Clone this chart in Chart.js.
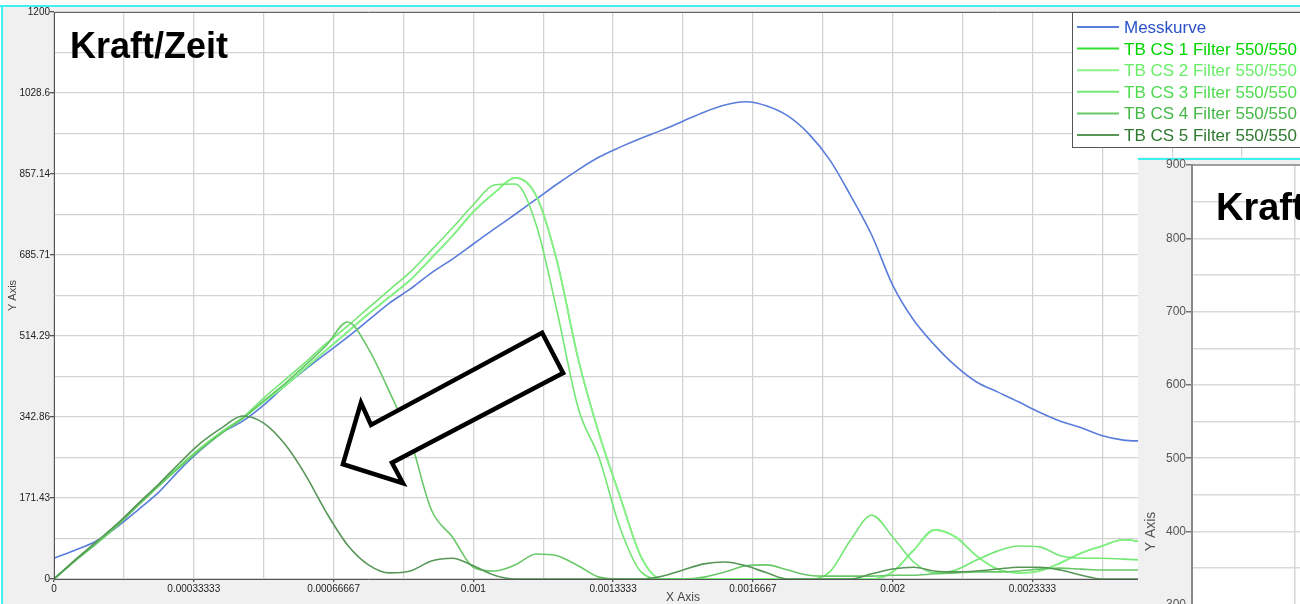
<!DOCTYPE html>
<html>
<head>
<meta charset="utf-8">
<script src="https://cdn.jsdelivr.net/npm/chart.js@4.4.1/dist/chart.umd.min.js"></script>
<style>
html, body { margin: 0; padding: 0; background: #fff; overflow: hidden; width: 1300px; height: 604px; }
#wrap { position: relative; width: 1300px; height: 604px; overflow: hidden; }
#kraftZeit { position: absolute; left: 0; top: 0; }
#zweitesDiagramm { position: absolute; left: 1138px; top: 157px; }
</style>
</head>
<body>
<div id="wrap">
  <canvas id="kraftZeit" width="1330" height="604"></canvas>
  <canvas id="zweitesDiagramm" width="1100" height="780"></canvas>
</div>
<script>
// Zeitachse (s), gemeinsames Raster fuer alle Kurven
const zeit = [0, 0.00005, 0.0001, 0.00015, 0.0002, 0.00025, 0.0003, 0.00035, 0.0004, 0.00045,
  0.0005, 0.00055, 0.0006, 0.00065, 0.0007, 0.00075, 0.0008, 0.00085, 0.0009, 0.00095,
  0.001, 0.00105, 0.0011, 0.00115, 0.0012, 0.00125, 0.0013, 0.00135, 0.0014, 0.00145,
  0.0015, 0.00155, 0.0016, 0.00165, 0.0017, 0.00175, 0.0018, 0.00185, 0.0019, 0.00195,
  0.002, 0.00205, 0.0021, 0.00215, 0.0022, 0.00225, 0.0023, 0.00235, 0.0024, 0.00245,
  0.0025, 0.00255, 0.0026];

const messkurve = [44, 61, 80, 110, 146, 184, 231, 273, 309, 334,
  368, 408, 444, 478, 512, 548, 584, 614, 648, 677,
  709, 741, 772, 804, 836, 866, 893, 914, 933, 950,
  969, 988, 1003, 1010, 1001, 980, 942, 887, 811, 728,
  622, 548, 495, 451, 417, 396, 375, 353, 334, 320,
  303, 294, 292];

// CS 1 liegt im Bild unter CS 2
const tbcs1 = [0, 39, 75, 113, 156, 198, 238, 276, 310, 340,
  375, 408, 447, 485, 523, 561, 597, 633, 679, 726,
  777, 817, 849, 811, 671, 466, 307, 174, 47, 0,
  0, 0, 0, 0, 0, 0, 0, 0, 0, 0,
  15, 61, 104, 89, 49, 21, 13, 17, 34, 55,
  70, 83, 78];

const tbcs2 = [0, 39, 75, 113, 156, 198, 238, 276, 310, 340,
  375, 408, 447, 485, 523, 561, 597, 633, 679, 726,
  777, 817, 849, 811, 671, 466, 307, 174, 47, 0,
  0, 0, 0, 0, 0, 0, 0, 0, 0, 0,
  15, 61, 104, 89, 49, 21, 13, 17, 34, 55,
  70, 83, 78];

const tbcs3 = [0, 40, 77, 115, 158, 200, 240, 278, 312, 342,
  383, 421, 459, 499, 535, 574, 612, 650, 696, 743,
  792, 834, 836, 749, 565, 362, 256, 108, 15, 0,
  0, 0, 0, 0, 0, 0, 0, 15, 83, 135,
  89, 36, 13, 19, 40, 59, 70, 68, 49, 44,
  44, 42, 40];

const tbcs4 = [0, 38, 74, 112, 155, 197, 237, 275, 309, 340,
  377, 413, 453, 495, 544, 487, 396, 294, 146, 89,
  25, 17, 30, 53, 49, 28, 4, 0, 0, 0,
  0, 4, 15, 28, 30, 19, 8, 6, 6, 6,
  8, 8, 11, 13, 15, 15, 17, 21, 23, 21,
  19, 19, 19];

const tbcs5 = [0, 40, 78, 116, 159, 201, 246, 288, 320, 345,
  330, 286, 220, 140, 72, 30, 13, 17, 38, 44,
  28, 8, 0, 0, 0, 0, 0, 0, 0, 6,
  19, 32, 36, 28, 13, 0, 0, 0, 0, 11,
  21, 25, 17, 15, 17, 21, 25, 25, 19, 8,
  0, 0, 0];

const xTickLabels = ['0', '0.00033333', '0.00066667', '0.001', '0.0013333', '0.0016667', '0.002', '0.0023333', '0.0026667', '0.003'];
const yTickLabels = ['0', '171.43', '342.86', '514.29', '685.71', '857.14', '1028.6', '1200'];
const insetYTickLabels = ['-100', '0', '100', '200', '300', '400', '500', '600', '700', '800', '900'];

// Pfeil (Annotation) in Datenkoordinaten
const pfeilX = [0.001164, 0.001214, 0.000806, 0.000832, 0.000689, 0.000732, 0.000756];
const pfeilY = [521, 436, 246, 203, 243, 373, 326];

const F = '"Liberation Sans", Arial, sans-serif';
Chart.defaults.font.family = F;

const serien = [
  { label: 'Messkurve', werte: messkurve, farbe: '#5a7ddb', text: '#2b52c8' },
  { label: 'TB CS 1 Filter 550/550', werte: tbcs1, farbe: '#33e033', text: '#00d400' },
  { label: 'TB CS 2 Filter 550/550', werte: tbcs2, farbe: '#8cf28c', text: '#6aee6a' },
  { label: 'TB CS 3 Filter 550/550', werte: tbcs3, farbe: '#74e674', text: '#4fdc4f' },
  { label: 'TB CS 4 Filter 550/550', werte: tbcs4, farbe: '#68c868', text: '#45b845' },
  { label: 'TB CS 5 Filter 550/550', werte: tbcs5, farbe: '#579657', text: '#2f7a2f' }
];

const hintergrund = {
  id: 'hintergrund',
  beforeDraw(chart) {
    const { ctx, chartArea: a } = chart;
    ctx.save();
    ctx.fillStyle = '#fff';
    ctx.fillRect(0, 0, chart.width, chart.height);
    ctx.fillStyle = '#f0f0f0';
    ctx.fillRect(2, 6, chart.width, chart.height);
    ctx.fillStyle = '#fff';
    ctx.fillRect(a.left, a.top, a.width, a.height);
    ctx.fillStyle = '#3ff0f0';
    ctx.fillRect(0, 5, chart.width, 2);
    ctx.fillRect(1, 5, 2, chart.height);
    ctx.restore();
  },
  beforeDatasetsDraw(chart) {
    const { ctx, chartArea: a } = chart;
    ctx.save();
    ctx.strokeStyle = '#666';
    ctx.lineWidth = 1;
    ctx.beginPath();
    ctx.moveTo(a.left, a.top + 0.5);
    ctx.lineTo(a.right, a.top + 0.5);
    ctx.lineTo(a.right, a.bottom);
    ctx.stroke();
    ctx.restore();
  }
};

const beschriftung = {
  id: 'beschriftung',
  afterDatasetsDraw(chart) {
    const { ctx } = chart;
    const xs = chart.scales.x, ys = chart.scales.y;
    ctx.save();
    ctx.beginPath();
    pfeilX.forEach((v, i) => {
      const px = xs.getPixelForValue(v), py = ys.getPixelForValue(pfeilY[i]);
      if (i) ctx.lineTo(px, py); else ctx.moveTo(px, py);
    });
    ctx.closePath();
    ctx.fillStyle = '#fff';
    ctx.fill();
    ctx.lineWidth = 4.5;
    ctx.lineJoin = 'miter';
    ctx.strokeStyle = '#000';
    ctx.stroke();

    ctx.fillStyle = '#000';
    ctx.font = 'bold 36px ' + F;
    ctx.textBaseline = 'alphabetic';
    ctx.fillText('Kraft/Zeit', 70, 58);
    ctx.restore();
  },
  afterDraw(chart) {
    const { ctx } = chart;
    ctx.save();
    ctx.fillStyle = '#fff';
    ctx.fillRect(1072.5, 12.5, 300, 135);
    ctx.strokeStyle = '#555';
    ctx.lineWidth = 1;
    ctx.strokeRect(1072.5, 12.5, 300, 135);
    ctx.font = '17px ' + F;
    ctx.textBaseline = 'alphabetic';
    chart.data.datasets.forEach((d, i) => {
      const y = 27 + i * 21.6;
      ctx.strokeStyle = d.borderColor;
      ctx.lineWidth = 2;
      ctx.beginPath();
      ctx.moveTo(1077, y);
      ctx.lineTo(1119, y);
      ctx.stroke();
      ctx.fillStyle = d.textColor;
      ctx.fillText(d.label, 1124, y + 6);
    });
    ctx.restore();
  }
};

const xGitter = [];
for (let k = 0; k <= 18; k++) xGitter.push(k * 0.001 / 6);
const yGitter = [];
for (let k = 0; k <= 14; k++) yGitter.push(k * 600 / 7);

const nurHaupt = c => (c.index % 2 === 0 ? '#555' : 'rgba(0,0,0,0)');

new Chart(document.getElementById('kraftZeit'), {
  type: 'line',
  data: {
    datasets: serien.map((s, i) => ({
      label: s.label,
      data: zeit.map((t, k) => ({ x: t, y: s.werte[k] })),
      borderColor: s.farbe,
      textColor: s.text,
      borderWidth: 1.6,
      pointRadius: 0,
      cubicInterpolationMode: 'monotone',
      order: serien.length - i
    }))
  },
  options: {
    responsive: false,
    animation: false,
    events: [],
    layout: { padding: { left: 0, top: 12, right: 18, bottom: 0 } },
    plugins: { legend: { display: false }, tooltip: { enabled: false } },
    scales: {
      x: {
        type: 'linear', min: 0, max: 0.003,
        afterFit(s) { s.height = 25; },
        afterBuildTicks(s) { s.ticks = xGitter.map(v => ({ value: v })); },
        ticks: {
          autoSkip: false, maxRotation: 0, padding: 1, color: '#222',
          font: { size: 10 },
          callback: (v, i) => (i % 2 === 0 ? xTickLabels[i / 2] : '')
        },
        grid: { color: '#d2d2d2', lineWidth: 1.3, tickLength: 3, tickColor: nurHaupt },
        border: { color: '#555', width: 1, z: 1 },
        title: { display: true, text: 'X Axis', color: '#444', font: { size: 12 }, padding: { top: 0, bottom: -1 } }
      },
      y: {
        min: 0, max: 1200,
        afterFit(s) { s.width = 54; },
        afterBuildTicks(s) { s.ticks = yGitter.map(v => ({ value: v })); },
        ticks: {
          autoSkip: false, padding: 0, color: '#222',
          font: { size: 10 },
          callback: (v, i) => (i % 2 === 0 ? yTickLabels[i / 2] : '')
        },
        grid: { color: '#d2d2d2', lineWidth: 1.3, tickLength: 4, tickColor: nurHaupt },
        border: { color: '#555', width: 1, z: 1 },
        title: { display: true, text: 'Y Axis', color: '#444', font: { size: 11 }, padding: { top: 6, bottom: 0 } }
      }
    }
  },
  plugins: [hintergrund, beschriftung]
});

// zweites, verdecktes Diagramm rechts unten
const insetHintergrund = {
  id: 'insetHintergrund',
  beforeDraw(chart) {
    const { ctx, chartArea: a } = chart;
    ctx.save();
    ctx.fillStyle = '#f0f0f0';
    ctx.fillRect(0, 0, chart.width, chart.height);
    ctx.fillStyle = '#fff';
    ctx.fillRect(a.left, a.top, a.width, a.height);
    ctx.fillStyle = '#3ff0f0';
    ctx.fillRect(0, 1, chart.width, 2);
    ctx.restore();
  },
  afterDraw(chart) {
    const { ctx, chartArea: a } = chart;
    ctx.save();
    ctx.strokeStyle = '#888';
    ctx.lineWidth = 1.5;
    ctx.beginPath();
    ctx.moveTo(a.left, a.top);
    ctx.lineTo(a.right, a.top);
    ctx.stroke();
    ctx.fillStyle = '#000';
    ctx.font = 'bold 38px ' + F;
    ctx.fillText('Kraft/Zeit', 78, 63);
    ctx.restore();
  }
};

const insetYGitter = [];
for (let k = 0; k <= 20; k++) insetYGitter.push(-100 + k * 50);

new Chart(document.getElementById('zweitesDiagramm'), {
  type: 'line',
  data: { datasets: [] },
  options: {
    responsive: false,
    animation: false,
    events: [],
    layout: { padding: { left: 0, top: 8, right: 16, bottom: 0 } },
    plugins: { legend: { display: false }, tooltip: { enabled: false } },
    scales: {
      x: {
        type: 'linear', min: 0, max: 0.0025,
        afterFit(s) { s.height = 39; },
        ticks: { display: false, stepSize: 0.00025 },
        grid: { color: '#d6d6d6', lineWidth: 1.5, drawTicks: false },
        border: { color: '#888', width: 2 }
      },
      y: {
        min: -100, max: 900,
        afterFit(s) { s.width = 54; },
        afterBuildTicks(s) { s.ticks = insetYGitter.map(v => ({ value: v })); },
        ticks: {
          autoSkip: false, padding: 0, color: '#555',
          font: { size: 12 },
          callback: (v, i) => (i % 2 === 0 ? insetYTickLabels[i / 2] : '')
        },
        grid: { color: '#d9d9d9', lineWidth: 1.5, tickLength: 6, tickColor: c => (c.index % 2 === 0 ? '#777' : 'rgba(0,0,0,0)') },
        border: { color: '#888', width: 2, z: 1 },
        title: { display: true, text: 'Y Axis', color: '#555', font: { size: 14 }, padding: { top: 5, bottom: 0 } }
      }
    }
  },
  plugins: [insetHintergrund]
});
</script>
</body>
</html>
